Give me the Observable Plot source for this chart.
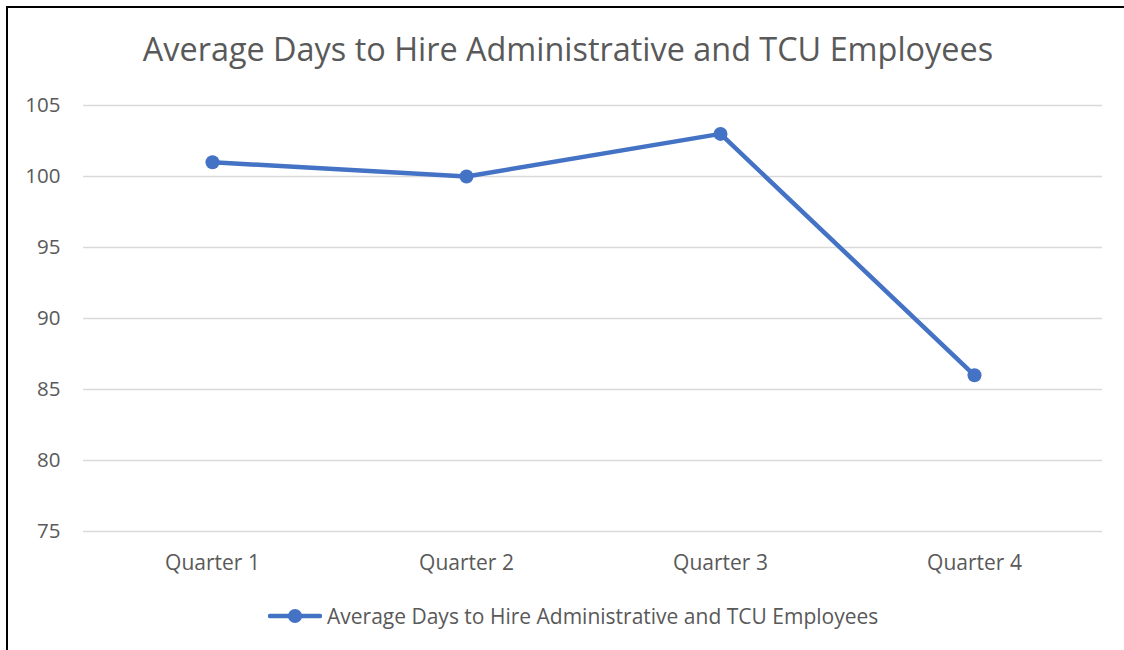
<!DOCTYPE html>
<html>
<head>
<meta charset="utf-8">
<script src="https://cdn.jsdelivr.net/npm/d3@7"></script>
<script src="https://cdn.jsdelivr.net/npm/@observablehq/plot@0.6"></script>
<style>
  html, body { margin: 0; padding: 0; background: #fff; }
  #wrap { position: relative; width: 1124px; height: 650px; overflow: hidden; font-family: "Open Sans", sans-serif; }
  #frame { position: absolute; left: 6px; top: 6px; width: 1130px; height: 660px; border-left: 2px solid #000; border-top: 2px solid #000; box-sizing: border-box; pointer-events: none; }
  #title { position: absolute; left: 0; width: 1136px; top: 27px; text-align: center; font-size: 32.4px; line-height: 42px; color: #595959; white-space: nowrap; }
  #legend { position: absolute; left: 268px; top: 602px; display: flex; align-items: center; font-size: 21px; color: #595959; white-space: nowrap; }
  #legend svg { margin-right: 5px; }
  #chart { position: absolute; left: 0; top: 0; }
</style>
</head>
<body>
<div id="wrap">
  <div id="chart"></div>
  <div id="title"></div>
  <div id="legend"></div>
  <div id="frame"></div>
</div>
<script>
const titleText = "Average Days to Hire Administrative and TCU Employees";
const seriesName = "Average Days to Hire Administrative and TCU Employees";
const quarters = ["Quarter 1", "Quarter 2", "Quarter 3", "Quarter 4"];
const days = [101, 100, 103, 86];
const yTicks = [75, 80, 85, 90, 95, 100, 105];
const color = "#4472C4";

const data = quarters.map((q, i) => ({quarter: q, days: days[i]}));

const chart = Plot.plot({
  width: 1124,
  height: 650,
  marginLeft: 83,
  marginRight: 22,
  marginTop: 105,
  marginBottom: 119,
  style: {fontFamily: "'Open Sans', sans-serif", fontSize: "20px", color: "#595959", background: "#fff"},
  x: {type: "point", domain: quarters, padding: 0.5, label: null},
  y: {domain: [75, 105], label: null},
  marks: [
    Plot.gridY(yTicks, {stroke: "#d9d9d9", strokeOpacity: 1, strokeWidth: 1.5}),
    Plot.axisY(yTicks, {tickSize: 0, tickPadding: 23, fill: "#595959", fontSize: 20.5, label: null}),
    Plot.axisX({tickSize: 0, tickPadding: 24, fill: "#595959", fontSize: 21, label: null}),
    Plot.line(data, {x: "quarter", y: "days", stroke: color, strokeWidth: 4.5}),
    Plot.dot(data, {x: "quarter", y: "days", r: 7, fill: color, stroke: "none"})
  ]
});
document.getElementById("chart").appendChild(chart);
document.getElementById("title").textContent = titleText;

const legend = document.getElementById("legend");
const ns = "http://www.w3.org/2000/svg";
const sw = document.createElementNS(ns, "svg");
sw.setAttribute("width", 54); sw.setAttribute("height", 26);
const ln = document.createElementNS(ns, "line");
ln.setAttribute("x1", 2); ln.setAttribute("x2", 52); ln.setAttribute("y1", 13); ln.setAttribute("y2", 13);
ln.setAttribute("stroke", color); ln.setAttribute("stroke-width", 4.5); ln.setAttribute("stroke-linecap", "round");
const cc = document.createElementNS(ns, "circle");
cc.setAttribute("cx", 27); cc.setAttribute("cy", 13); cc.setAttribute("r", 7); cc.setAttribute("fill", color);
sw.appendChild(ln); sw.appendChild(cc);
legend.appendChild(sw);
const lt = document.createElement("span");
lt.textContent = seriesName;
legend.appendChild(lt);
</script>
</body>
</html>
